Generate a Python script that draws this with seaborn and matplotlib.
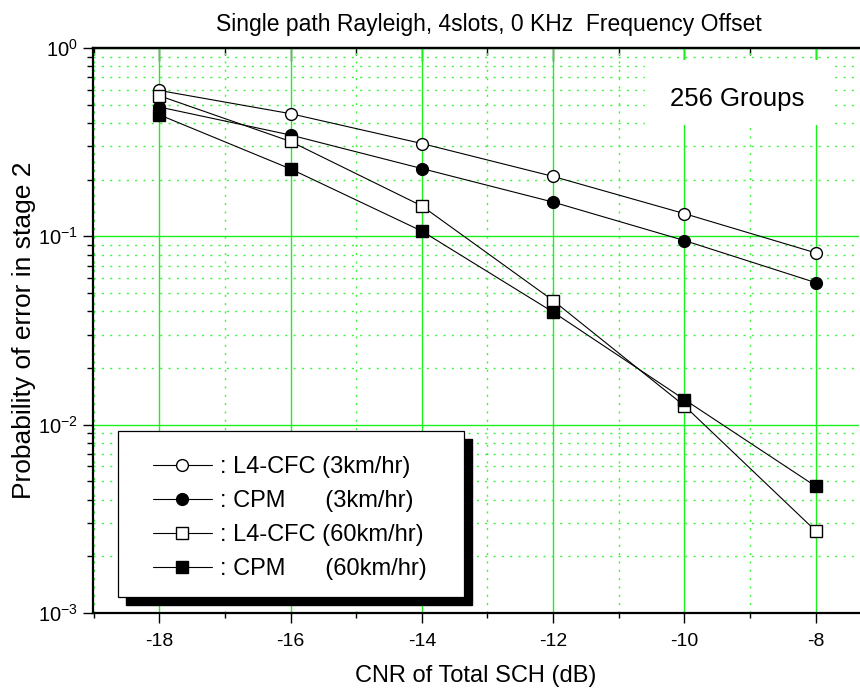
import numpy as np
import pandas as pd
import matplotlib
matplotlib.use("Agg")
import matplotlib.pyplot as plt
import seaborn as sns
from matplotlib.patches import Rectangle
from matplotlib.ticker import MultipleLocator, LogLocator, LogFormatterSciNotation, NullFormatter

# ---- data ----
cnr_db = [-18, -16, -14, -12, -10, -8]
l4cfc_3kmh = [0.595, 0.448, 0.311, 0.208, 0.132, 0.0817]
cpm_3kmh = [0.486, 0.345, 0.229, 0.152, 0.095, 0.0568]
l4cfc_60kmh = [0.558, 0.319, 0.145, 0.0456, 0.0126, 0.00273]
cpm_60kmh = [0.442, 0.228, 0.1066, 0.0396, 0.0136, 0.00471]
series_labels = [": L4-CFC (3km/hr)", ": CPM      (3km/hr)",
                 ": L4-CFC (60km/hr)", ": CPM      (60km/hr)"]
title_text = "Single path Rayleigh, 4slots, 0 KHz  Frequency Offset"
xlabel_text = "CNR of Total SCH (dB)"
ylabel_text = "Probability of error in stage 2"
note_text = "256 Groups"

sns.set_theme(style="white")
plt.rcParams["font.family"] = ["Liberation Sans", "DejaVu Sans"]
plt.rcParams["mathtext.default"] = "regular"
plt.rcParams["axes.unicode_minus"] = False
plt.rcParams["text.color"] = "black"
plt.rcParams["axes.labelcolor"] = "black"
plt.rcParams["xtick.color"] = "black"
plt.rcParams["ytick.color"] = "black"

fig = plt.figure(figsize=(8.6, 6.9), dpi=100)
ax = fig.add_axes([93 / 860, 1 - 613 / 690, 766 / 860, 565 / 690])
ax.set_yscale("log")

styles = [
    dict(marker="o", markerfacecolor="white", markersize=8.5),
    dict(marker="o", markerfacecolor="black", markersize=8.5),
    dict(marker="s", markerfacecolor="white", markersize=8.0),
    dict(marker="s", markerfacecolor="black", markersize=8.0),
]
for vals, lab, st in zip([l4cfc_3kmh, cpm_3kmh, l4cfc_60kmh, cpm_60kmh], series_labels, styles):
    df = pd.DataFrame({"x": cnr_db, "y": vals})
    sns.lineplot(data=df, x="x", y="y", ax=ax, color="black", linewidth=0.8,
                 markeredgecolor="black", markeredgewidth=1.0, errorbar=None,
                 label=lab, zorder=3, **st)

ax.set_xlim(-19.01, -7.34)
ax.set_ylim(1e-3, 1)

ax.xaxis.set_major_locator(MultipleLocator(2))
ax.xaxis.set_minor_locator(MultipleLocator(1))
ax.yaxis.set_major_locator(LogLocator(base=10, numticks=10))
ax.yaxis.set_minor_locator(LogLocator(base=10, subs=np.arange(2, 10), numticks=20))
ax.yaxis.set_major_formatter(LogFormatterSciNotation())
ax.yaxis.set_minor_formatter(NullFormatter())

major_green = "#1cf01c"
minor_green = "#3cf53c"
ax.set_axisbelow(True)
ax.grid(True, which="major", color=major_green, linewidth=1.0, linestyle="-")
ax.grid(True, which="minor", color=minor_green, linewidth=1.0, linestyle=(0, (1.5, 4.5)))

ax.tick_params(axis="x", which="major", direction="out", length=7.5, width=1.0,
               labelsize=14, bottom=True, pad=7)
ax.tick_params(axis="x", which="minor", direction="out", length=3.5, width=1.0,
               bottom=True)
ax.tick_params(axis="y", which="major", direction="out", length=7, width=1.0,
               labelsize=14.5, left=True, pad=4)
ax.tick_params(axis="y", which="minor", direction="out", length=4.5, width=1.0,
               left=True)

for side in ["top", "bottom", "left"]:
    ax.spines[side].set_visible(True)
    ax.spines[side].set_color("black")
    ax.spines[side].set_linewidth(1.6)
ax.spines["right"].set_visible(False)

sec = ax.secondary_xaxis("top")
sec.xaxis.set_major_locator(MultipleLocator(2))
sec.xaxis.set_minor_locator(MultipleLocator(1))
sec.tick_params(axis="x", which="major", direction="in", length=9, width=1.0,
                color="black", labeltop=False)
sec.tick_params(axis="x", which="minor", direction="in", length=5, width=1.0,
                color="black")
sec.spines["top"].set_linewidth(1.6)
sec.spines["top"].set_color("black")

ax.set_title(title_text, fontsize=16.5, x=0.517, pad=12)
ax.set_xlabel(xlabel_text, fontsize=17, labelpad=11)
ax.set_ylabel(ylabel_text, fontsize=19, labelpad=1)

# note box
ax.add_patch(Rectangle((0.7206, 0.8637), 0.2415, 0.1151, transform=ax.transAxes,
                       facecolor="white", edgecolor="none", zorder=1))
ax.text(0.841, 0.8973, note_text, transform=ax.transAxes, ha="center",
        va="baseline", fontsize=18.5, zorder=4)

# legend with framed box and black shadow
fx0, fy0, fw, fh = 0.0326, 0.0283, 0.4517, 0.2938
ax.add_patch(Rectangle((fx0 + 8 / 766, fy0 - 8 / 565), fw, fh, transform=ax.transAxes,
                       facecolor="black", edgecolor="black", zorder=4))
ax.add_patch(Rectangle((fx0, fy0), fw, fh, transform=ax.transAxes,
                       facecolor="white", edgecolor="black", linewidth=0.9, zorder=4.1))
handles, labels = ax.get_legend_handles_labels()
leg = ax.legend(handles, labels, loc="upper left", bbox_to_anchor=(0.078, 0.277),
                frameon=False, fontsize=17, handlelength=2.5, handletextpad=0.35,
                labelspacing=0.5, borderpad=0, borderaxespad=0, numpoints=1)
leg.set_zorder(5)

fig.savefig("out.png", dpi=100)
